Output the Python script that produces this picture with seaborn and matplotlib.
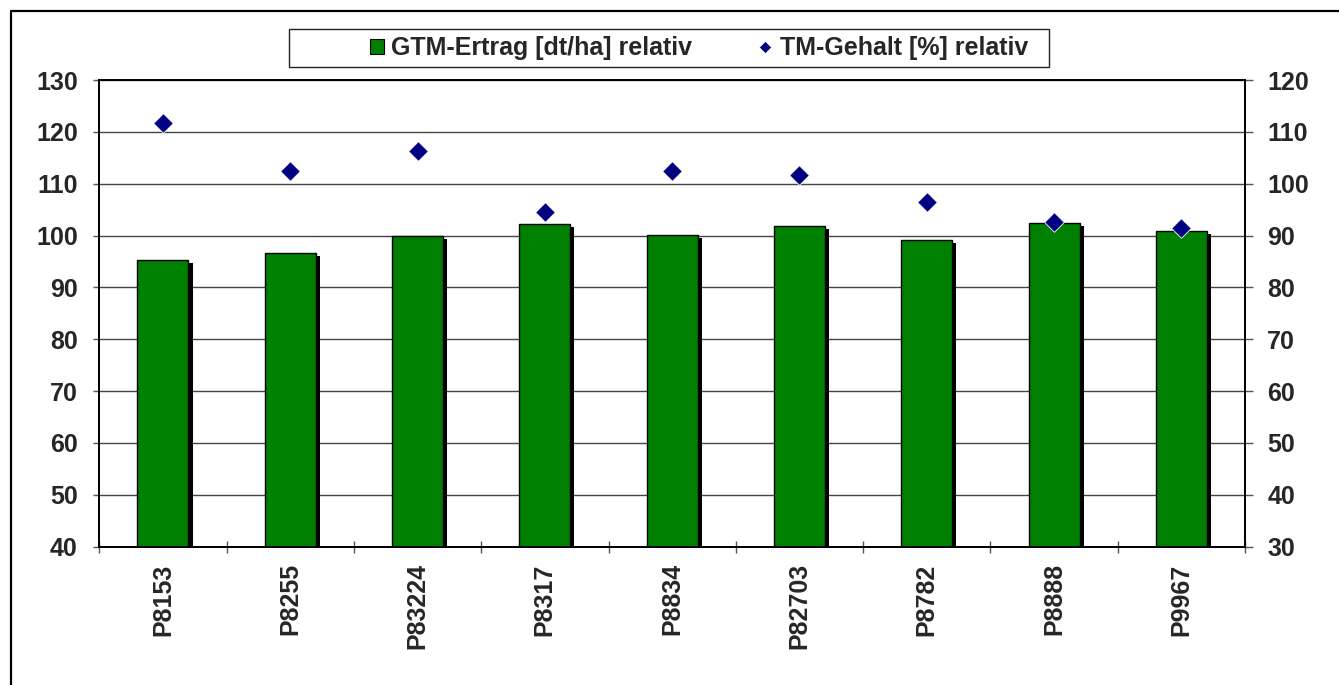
import numpy as np
import pandas as pd
import matplotlib
matplotlib.use("Agg")
import matplotlib.pyplot as plt
import matplotlib.patheffects as pe
from matplotlib.lines import Line2D
from matplotlib.patches import Patch, Rectangle
from matplotlib.ticker import FixedLocator
import seaborn as sns

# ---- data ----
categories = ["P8153", "P8255", "P83224", "P8317", "P8834", "P82703", "P8782", "P8888", "P9967"]
gtm_ertrag = [95.3, 96.6, 100.0, 102.3, 100.2, 101.9, 99.1, 102.4, 100.9]
tm_gehalt = [111.8, 102.5, 106.3, 94.6, 102.5, 101.7, 96.4, 92.6, 91.4]
left_ticks = [40, 50, 60, 70, 80, 90, 100, 110, 120, 130]
right_ticks = [30, 40, 50, 60, 70, 80, 90, 100, 110, 120]
label_bar = "GTM-Ertrag [dt/ha] relativ"
label_pts = "TM-Gehalt [%] relativ"

sns.set_theme(style="white")
plt.rcParams["font.family"] = ["Liberation Sans", "DejaVu Sans"]
plt.rcParams["font.weight"] = "bold"

W, H = 1339, 685
fig = plt.figure(figsize=(W / 100, H / 100), dpi=100)
fig.patch.set_facecolor("white")

L, R, T, B = 99.3, 1245, 80, 546.7
ax = fig.add_axes([L / W, 1 - B / H, (R - L) / W, (B - T) / H])

df = pd.DataFrame({"cat": categories, "gtm": gtm_ertrag})
sns.barplot(data=df, x="cat", y="gtm", ax=ax, color="#008000", width=0.4,
            edgecolor="black", linewidth=1.0, saturation=1)
for p in ax.patches:
    p.set_path_effects([pe.SimplePatchShadow(offset=(3.0, -2.2), shadow_rgbFace="black", alpha=1.0),
                        pe.Normal()])

ax.set_ylim(left_ticks[0], left_ticks[-1])
ax.set_xlim(-0.5, len(categories) - 0.5)
ax.yaxis.set_major_locator(FixedLocator(left_ticks))
ax.set_xlabel("")
ax.set_ylabel("")
ax.set_axisbelow(True)
ax.grid(axis="y", color="#444444", linewidth=1.0)
ax.grid(axis="x", visible=False)
for s in ax.spines.values():
    s.set_visible(True)
    s.set_color("black")
    s.set_linewidth(1.3)

ax.tick_params(axis="y", which="major", left=True, length=4.5, width=1, color="#555555",
               pad=11, labelsize=18)
ax.tick_params(axis="x", which="major", length=0, pad=12, labelsize=18, labelrotation=90)
ax.xaxis.set_minor_locator(FixedLocator(np.arange(-0.5, len(categories), 1.0)))
ax.tick_params(axis="x", which="minor", bottom=True, direction="inout", length=9, width=1, color="#555555")
for lab in ax.get_xticklabels() + ax.get_yticklabels():
    lab.set_fontweight("bold")

ax2 = ax.twinx()
sns.scatterplot(x=np.arange(len(categories)), y=tm_gehalt, ax=ax2, marker="D", s=100,
                color="#000080", edgecolor="white", linewidth=0.6, zorder=5, legend=False)
ax2.set_ylim(right_ticks[0], right_ticks[-1])
ax2.yaxis.set_major_locator(FixedLocator(right_ticks))
ax2.set_ylabel("")
ax2.set_xlim(-0.5, len(categories) - 0.5)
ax2.grid(False)
for s in ax2.spines.values():
    s.set_visible(True)
    s.set_color("black")
    s.set_linewidth(1.3)
ax2.tick_params(axis="y", which="major", right=True, length=5.5, width=1, color="#555555",
                pad=10.5, labelsize=18)
for lab in ax2.get_yticklabels():
    lab.set_fontweight("bold")

# legend box
fig.patches.append(Rectangle((289.3 / W, 1 - 67.3 / H), (1049 - 289.3) / W, (67.3 - 29) / H,
                             transform=fig.transFigure, facecolor="white", edgecolor="#222222",
                             linewidth=1.0, zorder=10))
handles = [Patch(facecolor="#008000", edgecolor="black", linewidth=0.8),
           Line2D([], [], marker="D", linestyle="none", markersize=6.5, color="#000080",
                  markeredgecolor="white", markeredgewidth=0.4)]
leg = fig.legend(handles, [label_bar, label_pts], loc="center", ncol=2,
                 bbox_to_anchor=(699 / W, 1 - 48 / H), frameon=False,
                 prop={"size": 18, "weight": "bold"}, handlelength=0.55, handleheight=0.55,
                 handletextpad=0.3, columnspacing=2.65, borderpad=0)
leg.set_zorder(11)

# outer frame
fig.add_artist(Line2D([11 / W, 1.0], [1 - 11 / H, 1 - 11 / H], transform=fig.transFigure,
                      color="black", linewidth=1.6))
fig.add_artist(Line2D([11 / W, 11 / W], [0.0, 1 - 11 / H], transform=fig.transFigure,
                      color="black", linewidth=1.6))

fig.savefig("out.png", dpi=100, facecolor="white")
